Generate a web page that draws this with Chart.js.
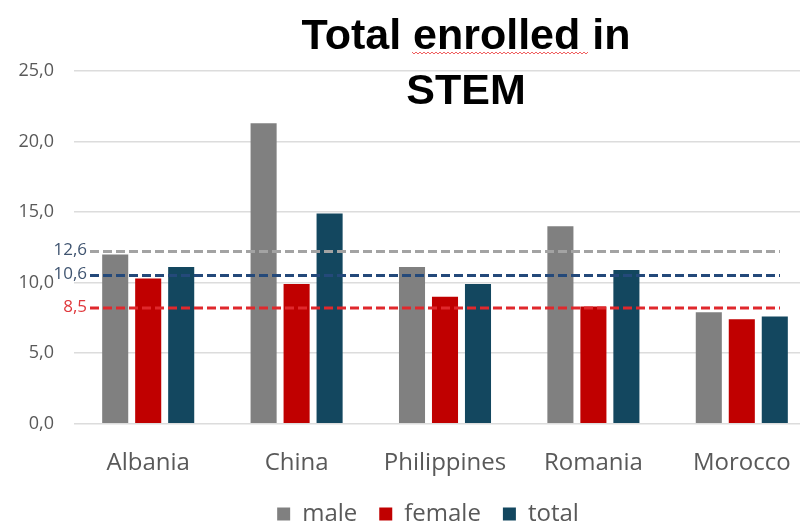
<!DOCTYPE html>
<html>
<head>
<meta charset="utf-8">
<script src="https://cdn.jsdelivr.net/npm/chart.js@4"></script>
<style>
    html, body { margin: 0; padding: 0; background: #fff; overflow: hidden; }
    #wrap { width: 856px; height: 524px; position: relative; }
</style>
</head>
<body>
<div id="wrap"><canvas id="stemChart"></canvas></div>
<script>
// Total enrolled in STEM

const categories = ['Albania', 'China', 'Philippines', 'Romania', 'Morocco'];
const maleValues = [12.0, 21.3, 11.1, 14.0, 7.9];
const femaleValues = [10.3, 9.9, 9.0, 8.3, 7.4];
const totalValues = [11.1, 14.9, 9.9, 10.9, 7.6];

// average lines (as drawn) and the labels written next to them
const avgValues = [12.2, 10.5, 8.2];
const avgLabels = ['12,6', '10,6', '8,5'];
const avgColors = ['#a3a3a3', '#24497a', '#e0282c'];
const avgLabelColors = ['#3f5470', '#3f5470', '#e0383c'];

const yTicks = [0, 5, 10, 15, 20, 25];

const TEXT_GREY = '#595959';
const FONT = "'Open Sans', sans-serif";

// dashed average lines + labels
const avgLinesPlugin = {
    id: 'avgLines',
    afterDatasetsDraw(chart) {
        const { ctx, chartArea, scales } = chart;
        ctx.save();
        avgValues.forEach((v, i) => {
            const y = scales.y.getPixelForValue(v);
            const x0 = chartArea.left + 16;
            const x1 = chartArea.right - 36;
            ctx.beginPath();
            ctx.setLineDash([9, 4]);
            ctx.lineWidth = 3;
            ctx.strokeStyle = avgColors[i];
            ctx.moveTo(x0, y);
            ctx.lineTo(x1, y);
            ctx.stroke();

            ctx.setLineDash([]);
            ctx.font = '17px ' + FONT;
            ctx.fillStyle = avgLabelColors[i];
            ctx.textAlign = 'right';
            ctx.textBaseline = 'middle';
            ctx.fillText(avgLabels[i], x0 - 3, y - 1);
        });
        ctx.restore();
    }
};

// title sits over the plot, like in the original
const titlePlugin = {
    id: 'overTitle',
    afterDraw(chart) {
        const { ctx } = chart;
        ctx.save();
        ctx.font = "bold 43px 'Liberation Sans', Arial, sans-serif";
        ctx.fillStyle = '#000';
        ctx.textAlign = 'center';
        ctx.textBaseline = 'alphabetic';
        ctx.fillText('Total enrolled in', 466, 49);
        ctx.fillText('STEM', 466, 104);

        // spell-check squiggle under "enrolled"
        ctx.beginPath();
        ctx.strokeStyle = '#f06060';
        ctx.lineWidth = 1;
        for (let x = 412; x <= 588; x += 2) {
            const y = 53 + ((x / 2) % 2 === 0 ? -1 : 1);
            if (x === 412) ctx.moveTo(x, y); else ctx.lineTo(x, y);
        }
        ctx.stroke();
        ctx.restore();
    }
};

document.addEventListener('DOMContentLoaded', () => {
    const ctx = document.getElementById('stemChart');
    new Chart(ctx, {
        type: 'bar',
        data: {
            labels: categories,
            datasets: [
                { label: 'male', data: maleValues, backgroundColor: '#808080' },
                { label: 'female', data: femaleValues, backgroundColor: '#c00000' },
                { label: 'total', data: totalValues, backgroundColor: '#13475f' }
            ]
        },
        options: {
            responsive: true,
            maintainAspectRatio: false,
            animation: false,
            categoryPercentage: 0.667,
            barPercentage: 0.79,
            layout: {
                padding: { top: 71, right: 0, left: 0, bottom: -12 }
            },
            plugins: {
                legend: {
                    position: 'bottom',
                    labels: {
                        boxWidth: 13,
                        boxHeight: 13,
                        padding: 22,
                        color: TEXT_GREY,
                        font: { size: 24, family: FONT }
                    }
                },
                tooltip: { enabled: false }
            },
            scales: {
                y: {
                    min: 0,
                    max: 25,
                    afterBuildTicks: (axis) => {
                        axis.ticks = yTicks.map(v => ({ value: v }));
                    },
                    afterFit: (axis) => { axis.width = 74; },
                    border: { display: false },
                    grid: { color: '#dcdcdc', lineWidth: 1.6, drawTicks: false },
                    ticks: {
                        padding: 20,
                        color: TEXT_GREY,
                        font: { size: 18, family: FONT },
                        callback: (value) => value.toFixed(1).replace('.', ',')
                    }
                },
                // empty strip on the right, keeps the legend centred on the full width
                yRight: {
                    position: 'right',
                    afterFit: (axis) => { axis.width = 40; },
                    border: { display: false },
                    grid: { display: false, drawTicks: false },
                    ticks: { display: false }
                },
                x: {
                    afterFit: (axis) => { axis.height -= 22.5; },
                    border: { display: false },
                    grid: { display: false, drawTicks: false },
                    ticks: {
                        padding: 25,
                        color: TEXT_GREY,
                        font: { size: 24, family: FONT }
                    }
                }
            }
        },
        plugins: [avgLinesPlugin, titlePlugin]
    });
});
</script>
</body>
</html>
